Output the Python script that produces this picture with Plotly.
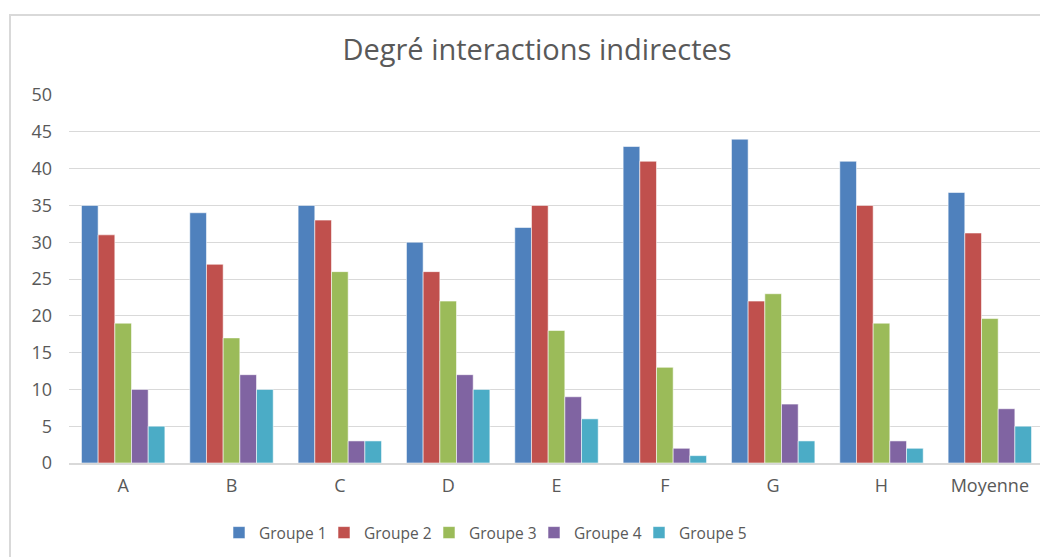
import plotly.graph_objects as go

# Données
categories = ['A', 'B', 'C', 'D', 'E', 'F', 'G', 'H', 'Moyenne']
groupe_1 = [35, 34, 35, 30, 32, 43, 44, 41, 36.75]
groupe_2 = [31, 27, 33, 26, 35, 41, 22, 35, 31.25]
groupe_3 = [19, 17, 26, 22, 18, 13, 23, 19, 19.625]
groupe_4 = [10, 12, 3, 12, 9, 2, 8, 3, 7.375]
groupe_5 = [5, 10, 3, 10, 6, 1, 3, 2, 5]
noms = ['Groupe 1', 'Groupe 2', 'Groupe 3', 'Groupe 4', 'Groupe 5']

COULEURS = ['#4F81BD', '#C0504D', '#9BBB59', '#8064A2', '#4BACC6']
TEXTE = '#595959'
GRILLE = '#D9D9D9'

# la page html ajoute une marge de 8 px autour de la figure
L, H = 1040, 549

fig = go.Figure()
for i, (nom, valeurs, couleur) in enumerate(zip(noms, [groupe_1, groupe_2, groupe_3, groupe_4, groupe_5], COULEURS)):
    fig.add_trace(go.Bar(
        name=nom,
        x=categories,
        y=valeurs,
        marker_color=couleur,
        marker_line=dict(color='rgba(255,255,255,0.7)', width=0.8),
        legendwidth=90 if i == len(noms) - 1 else None
    ))

fig.update_layout(
    width=L,
    height=H,
    barmode='group',
    bargap=0.23,
    bargroupgap=0,
    plot_bgcolor='white',
    paper_bgcolor='white',
    font=dict(family='Open Sans, sans-serif', color=TEXTE, size=15),
    title=dict(
        text='Degré interactions indirectes',
        x=529 / L,
        xanchor='center',
        y=1 - 42 / H,
        yanchor='middle',
        font=dict(size=29, color=TEXTE)
    ),
    margin=dict(l=61, r=4, t=87, b=94),
    xaxis=dict(
        showgrid=False,
        showline=True,
        linecolor=GRILLE,
        linewidth=1.5,
        ticks='',
        automargin=False,
        ticklabelstandoff=6,
        tickfont=dict(size=18, color=TEXTE)
    ),
    yaxis=dict(
        range=[0, 50],
        dtick=5,
        showgrid=True,
        gridcolor=GRILLE,
        gridwidth=1.3,
        zeroline=False,
        showline=False,
        ticks='',
        automargin=False,
        ticklabelstandoff=16,
        tickfont=dict(size=18, color=TEXTE)
    ),
    legend=dict(
        orientation='h',
        xref='container',
        yref='container',
        x=211 / L,
        xanchor='left',
        y=1 - 525 / H,
        yanchor='middle',
        font=dict(size=15.5, color=TEXTE),
        itemwidth=30,
        entrywidth=60,
        entrywidthmode='pixels'
    ),
    shapes=[dict(
        type='rect',
        xref='paper', yref='paper',
        x0=(2 - 61) / 975, x1=1.2,
        y0=-0.4, y1=(455 - 7) / 368,
        line=dict(color=GRILLE, width=2),
        fillcolor='rgba(0,0,0,0)',
        layer='below'
    )]
)

fig.write_html('out.html')
